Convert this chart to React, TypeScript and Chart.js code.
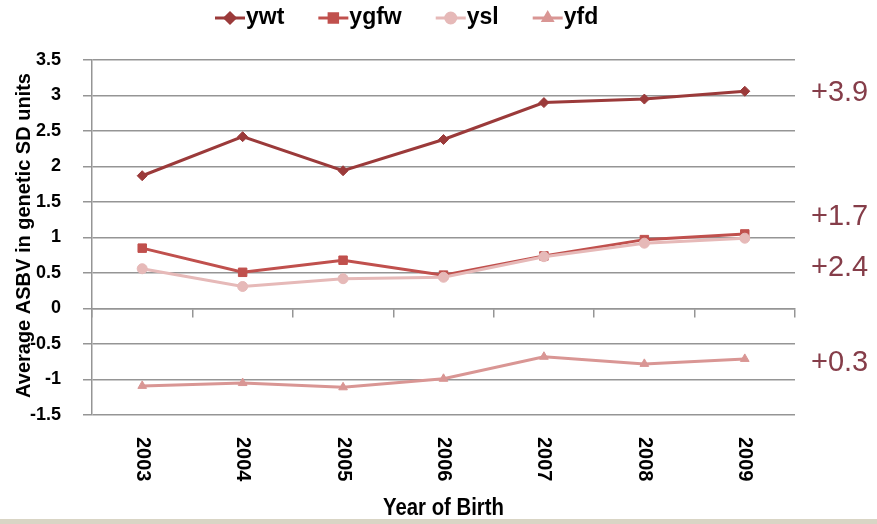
import React, { useEffect, useRef } from 'react';
import { Chart, registerables } from 'chart.js';
import { drawPoint } from 'chart.js/helpers';

Chart.register(...registerables);

// ---- data ----
const years = ['2003', '2004', '2005', '2006', '2007', '2008', '2009'];
const ywt = [1.87, 2.42, 1.94, 2.38, 2.9, 2.95, 3.06];
const ygfw = [0.85, 0.51, 0.68, 0.47, 0.74, 0.97, 1.05];
const ysl = [0.56, 0.31, 0.42, 0.44, 0.73, 0.92, 0.99];
const yfd = [-1.09, -1.05, -1.11, -0.99, -0.68, -0.78, -0.71];
const yMin = -1.5;
const yMax = 3.5;
const yStep = 0.5;
const gainLabels = ['+3.9', '+1.7', '+2.4', '+0.3'];
const gainAnchors = [3.03, 1.29, 0.57, -0.77];
const yTitle = 'Average ASBV in genetic SD units';
const xTitle = 'Year of Birth';

const GRID = '#959595';
const FONT = '"Liberation Sans", Arial, sans-serif';

const decor = {
  id: 'decor',
  beforeDraw(chart: any) {
    const { ctx, width, height } = chart;
    ctx.save();
    ctx.fillStyle = '#ffffff';
    ctx.fillRect(0, 0, width, height);
    ctx.fillStyle = '#d9d5c5';
    ctx.fillRect(0, 519, width, height - 519);
    ctx.restore();
  },
  afterDraw(chart: any) {
    const { ctx, chartArea } = chart;
    const xs = chart.scales.x;
    const ys = chart.scales.y;
    ctx.save();
    ctx.fillStyle = '#000';

    // y-axis title
    ctx.save();
    ctx.translate(24, (chartArea.top + chartArea.bottom) / 2 - 2);
    ctx.rotate(-Math.PI / 2);
    ctx.font = `bold 20px ${FONT}`;
    ctx.textAlign = 'center';
    ctx.textBaseline = 'middle';
    ctx.fillText(yTitle, 0, 0);
    ctx.restore();

    // x tick labels (rotated clockwise)
    ctx.font = `bold 20px ${FONT}`;
    years.forEach((lab, i) => {
      const px = xs.getPixelForValue(i);
      ctx.save();
      ctx.translate(px, 437);
      ctx.rotate(Math.PI / 2);
      ctx.textAlign = 'left';
      ctx.textBaseline = 'middle';
      ctx.fillText(lab, 0, 0);
      ctx.restore();
    });

    // x title (condensed)
    ctx.save();
    ctx.font = `bold 23px ${FONT}`;
    const tw = ctx.measureText(xTitle).width;
    const sx = 121 / tw;
    ctx.translate((chartArea.left + chartArea.right) / 2, 509);
    ctx.scale(sx, 1);
    ctx.textAlign = 'center';
    ctx.textBaseline = 'middle';
    ctx.fillText(xTitle, 0, 0);
    ctx.restore();

    // legend
    let lx = 215;
    const ly = 18;
    ctx.font = `bold 23px ${FONT}`;
    chart.data.datasets.forEach((ds: any) => {
      ctx.strokeStyle = ds.borderColor;
      ctx.lineWidth = 3;
      ctx.beginPath();
      ctx.moveTo(lx, ly);
      ctx.lineTo(lx + 30, ly);
      ctx.stroke();
      ctx.fillStyle = ds.borderColor;
      drawPoint(
        ctx,
        { pointStyle: ds.pointStyle, radius: ds.pointRadius, borderWidth: 1, rotation: 0 },
        lx + 15,
        ly
      );
      ctx.fillStyle = '#000';
      ctx.textAlign = 'left';
      ctx.textBaseline = 'middle';
      ctx.fillText(ds.label, lx + 31, ly);
      const w = ctx.measureText(ds.label).width;
      lx += 31 + w + 34;
    });

    // gain annotations
    ctx.font = `29px ${FONT}`;
    ctx.fillStyle = '#853d49';
    ctx.textAlign = 'left';
    ctx.textBaseline = 'middle';
    gainLabels.forEach((t, i) => {
      ctx.fillText(t, chartArea.right + 16, ys.getPixelForValue(gainAnchors[i]));
    });

    ctx.restore();
  },
};

export default function App() {
  const ref = useRef<HTMLCanvasElement | null>(null);
  useEffect(() => {
    if (!ref.current) return;
    const mk = (label: string, data: number[], color: string, style: string, r: number, order: number) => ({
      label,
      data,
      borderColor: color,
      backgroundColor: color,
      pointBackgroundColor: color,
      pointBorderColor: color,
      pointStyle: style,
      pointRadius: r,
      pointBorderWidth: 1,
      borderWidth: 3,
      tension: 0,
      order,
    });
    const chart = new Chart(ref.current, {
      type: 'line',
      data: {
        labels: years,
        datasets: [
          mk('ywt', ywt, '#9b3a3a', 'rectRot', 5, 3),
          mk('ygfw', ygfw, '#c0504d', 'rect', 6, 2),
          mk('ysl', ysl, '#e6b9b8', 'circle', 5, 1),
          mk('yfd', yfd, '#d99694', 'triangle', 5, 0),
        ],
      },
      options: {
        responsive: false,
        animation: false,
        devicePixelRatio: 1,
        layout: { padding: { left: 0, top: 60, right: 82, bottom: 109 } },
        plugins: { legend: { display: false }, tooltip: { enabled: false }, title: { display: false } },
        scales: {
          x: {
            type: 'category',
            position: { y: 0 } as any,
            offset: true,
            grid: { offset: true, drawOnChartArea: false, drawTicks: true, tickLength: 8, color: GRID, lineWidth: 1.5 },
            border: { display: true, color: GRID, width: 1.5 },
            ticks: { display: false },
          },
          y: {
            min: yMin,
            max: yMax,
            ticks: {
              stepSize: yStep,
              color: '#000',
              font: { family: FONT, size: 18, weight: 'bold' },
              padding: 22,
              callback: (v: any) => String(Math.round(Number(v) * 10) / 10),
            },
            grid: { color: GRID, lineWidth: 1.5, tickLength: 9, drawTicks: true },
            border: { display: true, color: GRID, width: 1.5 },
            afterFit: (scale: any) => {
              scale.width = 92;
            },
          },
        },
      },
      plugins: [decor],
    });
    return () => chart.destroy();
  }, []);
  return (
    <div style={{ position: 'absolute', left: 0, top: 0, width: 877, height: 524 }}>
      <canvas ref={ref} width={877} height={524} style={{ display: 'block', width: 877, height: 524 }} />
    </div>
  );
}
